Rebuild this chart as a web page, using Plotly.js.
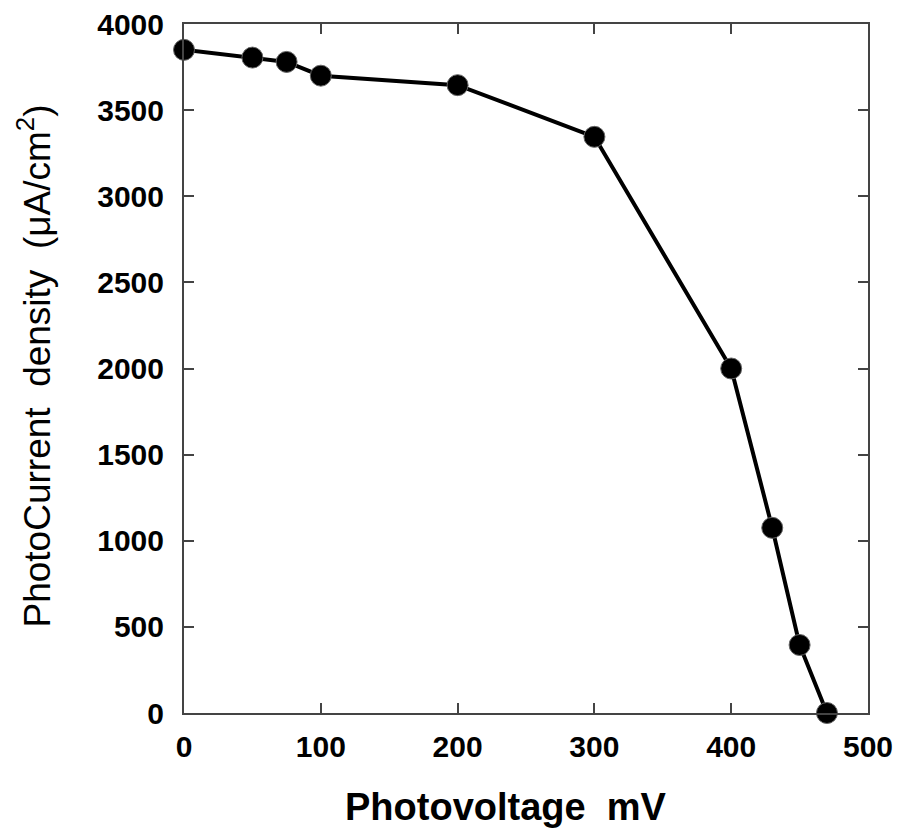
<!DOCTYPE html>
<html><head><meta charset="utf-8">
<script src="https://cdn.plot.ly/plotly-3.0.1.min.js"></script>
<style>html,body{margin:0;padding:0;background:#fff;}#chart{width:898px;height:830px;}</style>
</head><body><div id="chart"></div>
<script>
const voltage = [0, 50, 75, 100, 200, 300, 400, 430, 450, 470];
const current = [3850, 3805, 3780, 3700, 3645, 3345, 2000, 1075, 395, 0];
const xTicks = [0, 100, 200, 300, 400, 500];
const yTicks = [0, 500, 1000, 1500, 2000, 2500, 3000, 3500, 4000];
const xTitle = 'Photovoltage  mV';
const yTitle = 'PhotoCurrent  density  (μA/cm<sup>2</sup>)';

const trace = {
  x: voltage, y: current, mode: 'lines+markers', type: 'scatter',
  line: {color: '#000', width: 4},
  marker: {color: '#000', size: 21, line: {color: '#666', width: 1}},
  cliponaxis: false, showlegend: false
};
const axisFont = 'Arial, "Liberation Sans", sans-serif';
const layout = {
  width: 898, height: 830,
  margin: {l: 184, r: 30, t: 24, b: 117},
  paper_bgcolor: '#fff', plot_bgcolor: '#fff',
  xaxis: {
    range: [0, 500], tickvals: xTicks, ticktext: xTicks.map(String),
    ticks: 'inside', ticklen: 10, tickwidth: 2, tickcolor: '#444',
    showline: true, linecolor: '#444', linewidth: 2, mirror: 'ticks',
    showgrid: false, zeroline: false, ticklabelstandoff: 6,
    tickfont: {family: axisFont, size: 30, color: '#000', weight: 'bold'}
  },
  yaxis: {
    range: [0, 4000], tickvals: yTicks, ticktext: yTicks.map(String),
    ticks: 'inside', ticklen: 10, tickwidth: 2, tickcolor: '#444',
    showline: true, linecolor: '#444', linewidth: 2, mirror: 'ticks',
    showgrid: false, zeroline: false, ticklabelstandoff: 12,
    tickfont: {family: axisFont, size: 30, color: '#000', weight: 'bold'}
  },
  annotations: [
    {text: xTitle, xref: 'paper', yref: 'paper', x: 0.471, y: -0.137,
     xanchor: 'center', yanchor: 'middle', showarrow: false,
     font: {family: axisFont, size: 38, color: '#000', weight: 'bold'}},
    {text: yTitle, xref: 'paper', yref: 'paper', x: -0.2186, y: 0.5036,
     xanchor: 'center', yanchor: 'middle', showarrow: false, textangle: -90,
     font: {family: axisFont, size: 37, color: '#000'}}
  ]
};
Plotly.newPlot('chart', [trace], layout, {displayModeBar: false, staticPlot: true});
</script></body></html>
